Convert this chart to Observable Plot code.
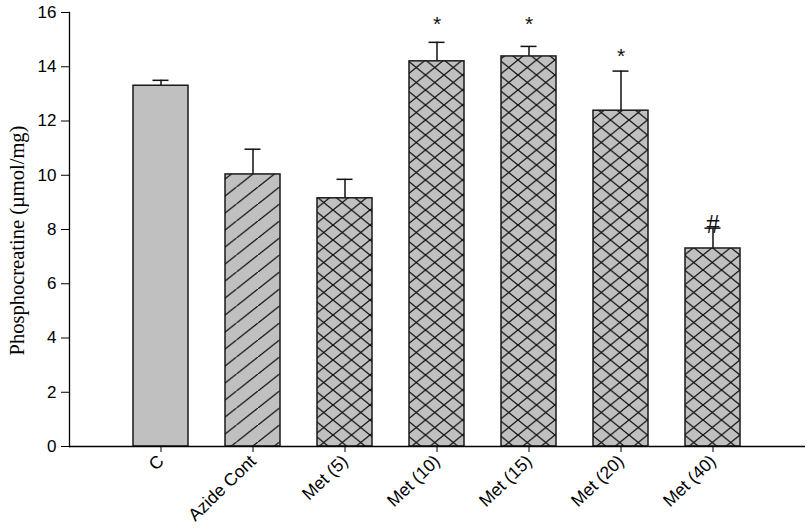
<!DOCTYPE html>
<html>
<head>
<meta charset="utf-8">
<script src="https://cdn.jsdelivr.net/npm/d3@7"></script>
<script src="https://cdn.jsdelivr.net/npm/@observablehq/plot@0.6"></script>
<style>
  body { margin: 0; background: #fff; }
  svg { display: block; }
</style>
</head>
<body>
<div id="chart"></div>
<script>
const categories = ["C", "Azide Cont", "Met (5)", "Met (10)", "Met (15)", "Met (20)", "Met (40)"];
const means = [13.3, 10.03, 9.15, 14.2, 14.38, 12.38, 7.3];
const errors = [0.2, 0.93, 0.7, 0.7, 0.37, 1.46, 0.75];
const sigLabels = ["", "", "", "*", "*", "*", "#"];
const sigY = [null, null, null, 15.7, 15.7, 14.55, 8.25];
const yTicks = [0, 2, 4, 6, 8, 10, 12, 14, 16];
const yLabel = "Phosphocreatine (µmol/mg)";

const rows = categories.map((c, i) => ({cat: c, mean: means[i], err: errors[i], sig: sigLabels[i], sigY: sigY[i], idx: i}));
const hatch = d => d.idx === 1 ? "url(#diagHatch)" : "url(#crossHatch)";

const plot = Plot.plot({
  width: 809,
  height: 529,
  marginLeft: 69,
  marginRight: 4,
  marginTop: 12,
  marginBottom: 83,
  style: {fontFamily: "Liberation Sans, Arial, sans-serif", background: "#fff", color: "#000"},
  x: {domain: categories, paddingInner: 0.4, paddingOuter: 0.7},
  y: {domain: [0, 16]},
  color: {type: "identity"},
  marks: [
    Plot.ruleX(rows, {x: "cat", y1: "mean", y2: d => d.mean + d.err, stroke: "#111", strokeWidth: 1.5}),
    Plot.tickY(rows, {x: "cat", y: d => d.mean + d.err, stroke: "#111", strokeWidth: 1.5, inset: 19.5}),
    Plot.barY(rows, {x: "cat", y: "mean", fill: "#c0c0c0"}),
    Plot.barY(rows.filter(d => d.idx > 0), {x: "cat", y: "mean", fill: hatch}),
    Plot.barY(rows, {x: "cat", y: "mean", fill: "none", stroke: "#1a1a1a", strokeWidth: 1.5}),
    Plot.text(rows.filter(d => d.sig === "*"), {x: "cat", y: "sigY", text: "sig", fontSize: 21, fill: "#111", dy: 4}),
    Plot.text(rows.filter(d => d.sig === "#"), {x: "cat", y: "sigY", text: "sig", fontSize: 27, fontFamily: "Liberation Serif, serif", fill: "#111", dy: 2}),
    Plot.ruleY([0], {stroke: "#000", strokeWidth: 1.3}),
    Plot.axisY({ticks: yTicks, tickSize: 8, tickPadding: 5, fontSize: 17, label: null}),
    Plot.text([yLabel], {frameAnchor: "left", textAnchor: "middle", rotate: -90, dx: -52, dy: 11, fontSize: 20.5, fontFamily: "Liberation Serif, serif", fill: "#000"}),
    Plot.axisX({tickSize: 6, tickRotate: -44, fontSize: 17.5, label: null, tickPadding: 6}),
    Plot.frame({anchor: "left", stroke: "#000", strokeWidth: 1.3})
  ]
});

const ns = "http://www.w3.org/2000/svg";
const defs = document.createElementNS(ns, "defs");
function makePattern(id, w, h, d) {
  const p = document.createElementNS(ns, "pattern");
  p.setAttribute("id", id);
  p.setAttribute("patternUnits", "userSpaceOnUse");
  p.setAttribute("width", w);
  p.setAttribute("height", h);
  const path = document.createElementNS(ns, "path");
  path.setAttribute("d", d);
  path.setAttribute("stroke", "#111");
  path.setAttribute("stroke-width", "1.3");
  path.setAttribute("fill", "none");
  p.appendChild(path);
  defs.appendChild(p);
}
{
  const w = 21.5, h = 17;
  makePattern("diagHatch", w, h, `M${-w/2},${h*1.5} L${w*1.5},${-h/2}`);
}
{
  const w = 18.5, h = 15;
  makePattern("crossHatch", w, h, `M${-w/2},${h*1.5} L${w*1.5},${-h/2} M${-w/2},${-h/2} L${w*1.5},${h*1.5}`);
}
plot.insertBefore(defs, plot.firstChild);
document.getElementById("chart").appendChild(plot);
</script>
</body>
</html>
